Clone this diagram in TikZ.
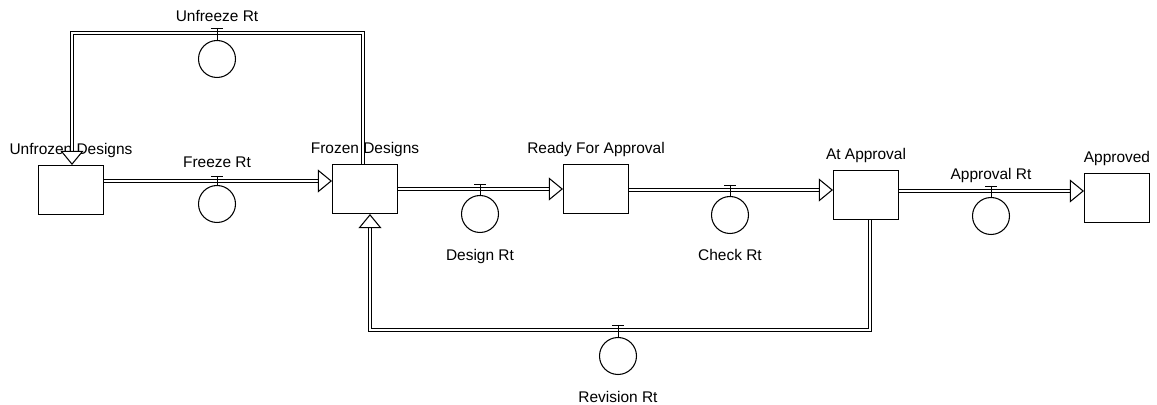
\documentclass[tikz,border=0pt]{standalone}
\usepackage{fontspec}
\setsansfont{Liberation Sans}
\usetikzlibrary{positioning,arrows.meta}

\begin{document}
\begin{tikzpicture}[x=0.02cm,y=-0.02cm,font=\sffamily\fontsize{8.8}{10}\selectfont,
 stock/.style={draw,line width=0.6pt,minimum width=1.3cm,minimum height=0.98cm,inner sep=0pt},
 rate/.style={draw,circle,line width=0.6pt,minimum size=0.74cm,inner sep=0pt},
 lbl/.style={inner sep=0pt},
 pipe/.style={draw,line width=0.6pt,double,double distance=1.4pt},
 flow/.style={pipe,-{Triangle[open,fill=white,length=8pt,width=13pt]}},
 tee/.style={line width=0.5pt}]
 \useasboundingbox (0,0) rectangle (1157,405);
 % stocks
 \node[stock](uf) at (71,190){};
 \node[stock](fd) at (365,189){};
 \node[stock](ra) at (596,189){};
 \node[stock](aa) at (866,195){};
 \node[stock](ap) at (1117,198){};
 \node[lbl,above=0.13cm of uf](uf-l){Unfrozen Designs};
 \node[lbl,above=0.13cm of fd](fd-l){Frozen Designs};
 \node[lbl,above=0.13cm of ra](ra-l){Ready For Approval};
 \node[lbl,above=0.14cm of aa](aa-l){At Approval};
 \node[lbl,above=0.14cm of ap](ap-l){Approved};
 % pipe points of the rates
 \coordinate (fr-p) at (217,181);
 \coordinate (uz-p) at (217,33);
 \coordinate (ds-p) at (480,189);
 \coordinate (ck-p) at (730,190);
 \coordinate (av-p) at (991,191);
 \coordinate (rv-p) at (618,330);
 % rates
 \node[rate](fr) at (217,204){};
 \node[rate](uz) at (217,59){};
 \node[rate](ds) at (480,214){};
 \node[rate](ck) at (730,215){};
 \node[rate](av) at (991,216){};
 \node[rate](rv) at (618,356){};
 \node[lbl,above=0.25cm of fr-p](fr-l){Freeze Rt};
 \node[lbl,above=0.21cm of uz-p](uz-l){Unfreeze Rt};
 \node[lbl,below=0.32cm of ds](ds-l){Design Rt};
 \node[lbl,below=0.3cm of ck](ck-l){Check Rt};
 \node[lbl,above=0.16cm of av-p](av-l){Approval Rt};
 \node[lbl,below=0.32cm of rv](rv-l){Revision Rt};
 % flows
 \draw[flow](uf.east |- fr-p)--(fd.west |- fr-p);
 \draw[flow]([xshift=-0.04cm]fd.north) |- (uz-p) -| ([xshift=0.02cm]uf.north);
 \draw[flow](fd.east |- ds-p)--(ra.west |- ds-p);
 \draw[flow](ra.east |- ck-p)--(aa.west |- ck-p);
 \draw[flow](aa.east |- av-p)--(ap.west |- av-p);
 \draw[flow]([xshift=0.08cm]aa.south) |- (rv-p) -| ([xshift=0.1cm]fd.south);
 % valve tees
 \foreach \v in {fr,uz,ds,ck,av,rv}{
   \draw[tee]([shift={(-0.12cm,0.1cm)}]\v-p)--([shift={(0.12cm,0.1cm)}]\v-p);
   \draw[tee]([yshift=0.1cm]\v-p)--(\v.north);
 }
\end{tikzpicture}
\end{document}
